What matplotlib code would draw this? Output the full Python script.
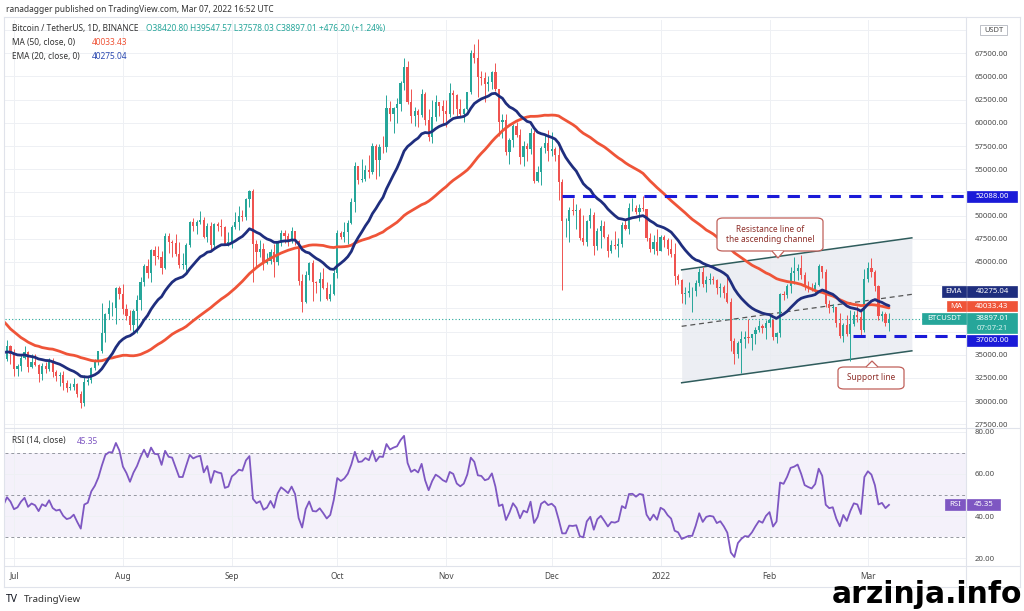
import numpy as np
import pandas as pd
import matplotlib
matplotlib.use("Agg")
import matplotlib.pyplot as plt
import matplotlib.dates as mdates
from matplotlib.patches import Rectangle, FancyBboxPatch, Polygon
from matplotlib.lines import Line2D

plt.rcParams['font.family'] = ['Noto Sans', 'DejaVu Sans']

# ---- data: BTCUSDT daily (Binance) ----
# closes before the visible window, only used to warm up MA50 / EMA20 / RSI
warmup_start = '2021-05-01'
warmup_close = [
    57800, 56600, 57200, 53200, 57500, 56400, 57400, 58900, 58300, 55800,
    56700, 49150, 49700, 49900, 46800, 46400, 43600, 42900, 37000, 40600,
    37300, 37500, 34700, 38800, 38400, 39300, 38500, 35700, 34600, 35700, 37300,
    36700, 37600, 39200, 36900, 35500, 35800, 33600, 33400, 37400, 36700,
    37300, 35550, 39000, 40500, 40150, 38350, 38100, 35800, 35500, 35600,
    31700, 32500, 33700, 34700, 31600, 32200, 34700,
]

# visible candles, 2021-06-28 .. 2022-03-07
close = [
    34500, 35900, 35050,
    # jul
    33500, 33800, 34700, 35300, 33700, 34200, 33900, 32900, 33800, 33500, 34250,
    33100, 32700, 32800, 31900, 31400, 31500, 31800, 30800, 29800, 32100, 32300,
    33600, 34300, 35400, 37300, 39400, 40000, 40000, 42200, 41500,
    # aug
    39900, 39200, 38200, 39700, 40900, 42800, 44600, 43800, 46300, 45600, 45550,
    44400, 47800, 47100, 47000, 45900, 44700, 44700, 46800, 49300, 48900, 49300,
    49500, 47700, 48900, 46800, 49100, 48900, 48800, 46900, 47100,
    # sep
    48800, 49300, 50000, 49900, 51800, 52700, 46900, 46100, 46400, 44850, 45150,
    46100, 44950, 47100, 48150, 47750, 47300, 48300, 47250, 43000, 40700, 43550,
    44900, 42800, 42700, 43200, 42200, 41050, 41550, 43800,
    # oct
    48150, 47650, 48200, 49250, 51500, 55350, 53800, 53950, 54950, 54650, 57500,
    56000, 57400, 57350, 61650, 60900, 61550, 62000, 64250, 66000, 62200, 60700,
    61300, 60850, 63100, 60350, 58450, 60600, 62250, 61850, 61300,
    # nov
    61000, 63250, 62950, 61450, 61000, 61500, 63300, 67550, 66950, 64900, 64800,
    64150, 64400, 65500, 63600, 60100, 60350, 56900, 58100, 59700, 58700, 56300,
    57550, 57150, 58950, 53700, 54750, 57300, 57800, 56950,
    # dec
    57200, 56500, 53600, 49400, 49400, 50600, 50500, 50600, 47550, 47150, 49400,
    50100, 46700, 48350, 48900, 47650, 46200, 46850, 46700, 46900, 49000, 48600,
    50800, 50850, 50400, 50800, 50700, 47550, 46450, 47150, 46200,
    # jan
    47700, 47350, 46450, 45850, 43450, 43100, 41550, 41700, 41850, 41850, 42750,
    43950, 42600, 43100, 43200, 43100, 42200, 42350, 41650, 40700, 36450, 35050,
    36300, 36700, 36950, 36850, 37200, 37700, 38150, 37900, 38450,
    # feb
    38750, 36900, 37300, 41550, 41400, 42400, 43850, 44050, 44400, 43550, 42400,
    42200, 42050, 42550, 44550, 43900, 40500, 40000, 40100, 38400, 37050, 38250,
    37250, 38350, 39250, 39100, 37700, 43200,
    # mar
    44400, 43950, 42450, 39150, 39400, 38420.80, 38897.01,
]
high = [
    35300, 36600, 36100,
    35600, 33950, 34950, 35950, 35400, 35100, 35050, 34000, 34100, 34250, 34600,
    34650, 33350, 33100, 33200, 32250, 31950, 32450, 31900, 31050, 32850, 32600,
    33650, 34500, 35450, 40550, 39550, 40900, 40650, 42300, 42450,
    42600, 40450, 39800, 39950, 41400, 43400, 44750, 45300, 46450, 46700, 46750,
    46200, 48150, 48150, 47400, 48050, 47150, 46000, 47050, 49400, 49750, 49500,
    50500, 49850, 49250, 49350, 49200, 49300, 49650, 48900, 48250,
    49000, 50400, 51050, 50550, 51900, 52800, 52900, 47350, 47400, 47050, 45950,
    46450, 46900, 47250, 48450, 48500, 48150, 48800, 48350, 47350, 43650, 44000,
    44950, 45200, 42950, 43900, 44350, 42800, 42650, 44100,
    48500, 48350, 49300, 49500, 51900, 55750, 55350, 56100, 55500, 56550, 57850,
    57700, 57700, 58550, 62950, 62350, 61750, 62650, 64500, 67000, 66650, 63700,
    61750, 61500, 63700, 63300, 61500, 62500, 62950, 62300, 62450,
    62450, 64300, 63500, 63100, 62600, 61600, 63350, 67800, 68550, 69000, 65600,
    65450, 65000, 65550, 66400, 63600, 61000, 60950, 58400, 59850, 60050, 59300,
    58000, 57800, 59400, 59200, 55300, 57450, 58850, 59250,
    59050, 57400, 57600, 53900, 49700, 50900, 51950, 51200, 50800, 50100, 49500,
    50800, 50400, 48700, 49500, 49450, 48000, 47350, 48300, 47550, 49350, 49600,
    51400, 51850, 51150, 51300, 52100, 50700, 48150, 47900, 48550,
    47950, 47950, 47550, 47500, 47050, 43750, 43150, 42300, 42800, 42250, 43100,
    44350, 44450, 43450, 43800, 43500, 43200, 42700, 42550, 43500, 41100, 36850,
    36500, 37550, 37550, 38900, 37250, 38000, 38700, 38350, 38750,
    39250, 38850, 37400, 41700, 41900, 42650, 44500, 45500, 44800, 45800, 43950,
    43000, 42750, 42850, 44750, 44600, 44200, 40950, 40500, 40150, 39500, 38450,
    39250, 39850, 39750, 40300, 39900, 44250,
    44950, 45400, 44100, 42500, 39700, 39650, 39547.57,
]
low = [
    33900, 34300, 34000,
    32700, 32700, 33300, 34500, 33150, 33550, 33800, 32100, 32300, 33000, 33300,
    32650, 32200, 31600, 31150, 31000, 31150, 31200, 30400, 29300, 29500, 31700,
    32000, 33400, 33900, 35200, 36400, 38800, 39200, 38300, 41000,
    39400, 38700, 37650, 37500, 37350, 39850, 42450, 43300, 42800, 44700, 45350,
    43750, 44250, 45950, 45500, 45650, 44400, 44200, 43950, 46650, 48300, 48000,
    49050, 47600, 47150, 46300, 46400, 48350, 47800, 46850, 46700,
    46500, 48600, 48400, 49450, 49500, 50900, 42850, 44400, 45500, 44150, 44750,
    44750, 43400, 44700, 46700, 47050, 46750, 47050, 46850, 42500, 39600, 40550,
    43100, 40800, 41700, 40750, 42100, 40850, 40750, 41400,
    43300, 47450, 47100, 46900, 49050, 50400, 53400, 53600, 53700, 54100, 54450,
    53900, 54250, 56800, 56850, 60150, 58950, 60000, 61300, 63500, 62000, 60000,
    59650, 59500, 60650, 59800, 58000, 57800, 60150, 60700, 59900,
    59500, 60650, 60950, 60700, 60750, 60100, 61350, 63100, 66400, 62800, 64100,
    62300, 63400, 63600, 63400, 58600, 58400, 56500, 55600, 57350, 58500, 55600,
    55300, 55850, 56650, 53500, 53650, 53250, 56700, 55900,
    56450, 55850, 51700, 42000, 47700, 47100, 50050, 48600, 47350, 46850, 46700,
    48650, 45700, 46300, 46550, 47550, 45500, 45950, 46400, 45550, 46650, 48450,
    48050, 50450, 50200, 49450, 50450, 47300, 46100, 45900, 45700,
    46200, 46650, 45700, 45500, 42500, 42650, 40600, 40500, 41250, 39650, 41300,
    42450, 42300, 41750, 42600, 42600, 41550, 41250, 41100, 40550, 35450, 34000,
    34600, 33000, 35700, 36250, 35500, 36150, 37400, 37350, 36650,
    38000, 36600, 36250, 36950, 40850, 41100, 41650, 42650, 43100, 43200, 42000,
    41750, 41850, 41550, 42450, 43300, 40100, 39450, 39650, 38000, 36800, 36350,
    37050, 34300, 38050, 38550, 37000, 37450,
    42850, 43350, 41850, 38700, 38600, 38100, 37578.03,
]

ma_last = '40033.43'
ema_last = '40275.04'
rsi_last = 45.35
countdown = '07:07:21'

resistance = 52088.00
resistance_from = '2021-12-04'
support = 37000.00
support_from = '2022-02-24 16:00'

channel_dates = ['2022-01-07', '2022-03-13 12:00']
channel_upper = [44150, 47600]
channel_lower = [31980, 35420]

month_ticks = ['2021-07-01', '2021-08-01', '2021-09-01', '2021-10-01', '2021-11-01',
               '2021-12-01', '2022-01-01', '2022-02-01', '2022-03-01']
month_labels = ['Jul', 'Aug', 'Sep', 'Oct', 'Nov', 'Dec', '2022', 'Feb', 'Mar']
price_ticks = list(range(27500, 70001, 2500))
hidden_ticks = [70000, 52500, 42500, 40000, 37500]   # sit under the axis tags
rsi_ticks = [20, 40, 60, 80]

# ---- indicators ----
allc = pd.Series(warmup_close + close,
                 index=pd.date_range(warmup_start, periods=len(warmup_close) + len(close)))
ma50 = allc.rolling(50).mean()
ema20 = allc.ewm(span=20, adjust=False).mean()
d = allc.diff()
gain = d.clip(lower=0).ewm(alpha=1 / 14, adjust=False).mean()
loss = (-d.clip(upper=0)).ewm(alpha=1 / 14, adjust=False).mean()
rsi = 100 - 100 / (1 + gain / loss)

n = len(close)
vis = allc.index[-n:]
x = mdates.date2num(vis)
c = np.array(close, float)
o = np.r_[warmup_close[-1], c[:-1]]
h = np.array(high, float)
l = np.array(low, float)

GREEN = '#26a69a'
RED = '#ef5350'
NAVY = '#1f2e7e'
MARED = '#ef5438'
BLUE = '#1a1ad8'
PURPLE = '#7e57c2'
GRID = '#eef0f4'
TXT = '#4a4a4a'

W, H = 1024, 611
L, R = 5, 966
fig = plt.figure(figsize=(W / 100, H / 100), dpi=100)
ax = fig.add_axes([L / W, 1 - 428 / H, (R - L) / W, (428 - 20) / H])
ar = fig.add_axes([L / W, 1 - 566 / H, (R - L) / W, (566 - 428) / H], sharex=ax)

jul1 = mdates.datestr2num('2021-07-01')
ppd = 3.514
ax.set_xlim(jul1 - (14 - L) / ppd, jul1 + (R - 14) / ppd)
ax.set_ylim(27101, 71087)
ar.set_ylim(16.2, 81.9)

# ---- main pane ----
mt = mdates.datestr2num(month_ticks)
for a in (ax, ar):
    for s in a.spines.values():
        s.set_visible(False)
    a.set_xticks(mt)
    a.grid(True, color=GRID, lw=0.7, zorder=0)
    a.set_axisbelow(True)

# channel
cx = mdates.datestr2num(channel_dates)
ax.fill_between(cx, channel_lower, channel_upper, color='#e9ecf1', alpha=0.85, lw=0, zorder=0.6)
ax.plot(cx, channel_upper, color='#2f5c5c', lw=1.1, zorder=1.2)
ax.plot(cx, channel_lower, color='#2f5c5c', lw=1.1, zorder=1.2)
ax.plot(cx, [(a + b) / 2 for a, b in zip(channel_lower, channel_upper)],
        color='#555555', lw=0.9, ls=(0, (4, 3)), zorder=1.2)

col = np.where(c >= o, GREEN, RED)
ax.vlines(x, l, h, colors=col, lw=0.7, zorder=2)
body = np.maximum(np.abs(c - o), 60)
ax.bar(x, body, bottom=np.minimum(o, c), width=0.62, color=col, lw=0, zorder=2.1)

ax.plot(x, ma50.values[-n:], color=MARED, lw=2.0, zorder=3, solid_capstyle='round')
ax.plot(x, ema20.values[-n:], color=NAVY, lw=2.0, zorder=3.1, solid_capstyle='round')

xr = ax.get_xlim()[1]
ax.hlines(resistance, mdates.datestr2num(resistance_from), xr, color=BLUE, lw=2.2,
          linestyles=(0, (4, 2.7)), zorder=3.2)
ax.hlines(support, mdates.datestr2num(support_from), xr, color=BLUE, lw=2.2,
          linestyles=(0, (4, 2.7)), zorder=3.2)
ax.axhline(c[-1], color=GREEN, lw=0.8, ls=(0, (1, 2)), zorder=1.5)

ax.set_yticks(price_ticks)
ax.set_yticklabels(['' if v in hidden_ticks else f'{v:.2f}' for v in price_ticks])
ax.yaxis.tick_right()
ax.tick_params(axis='y', length=0, pad=6.5, labelsize=5.6, labelcolor=TXT)
ax.tick_params(axis='x', length=0, labelbottom=False)

# ---- RSI pane ----
ar.axhspan(30, 70, color=PURPLE, alpha=0.08, lw=0, zorder=0.5)
for lv in (70, 50, 30):
    ar.axhline(lv, color='#9598a1', lw=0.7, ls=(0, (3, 3)), zorder=1)
ar.plot(x, rsi.values[-n:], color=PURPLE, lw=1.3, zorder=2)
ar.set_yticks(rsi_ticks)
ar.set_yticklabels([f'{v:.2f}' for v in rsi_ticks])
ar.yaxis.tick_right()
ar.tick_params(axis='y', length=0, pad=6.5, labelsize=5.6, labelcolor=TXT)
ar.set_xticklabels(month_labels)
ar.tick_params(axis='x', length=0, pad=4, labelsize=6, labelcolor=TXT)
for t in ar.get_xticklabels():
    if t.get_text() == '2022':
        t.set_fontweight('bold')
ax.set_xlim(jul1 - (14 - L) / ppd, jul1 + (R - 14) / ppd)


# ---- overlay helpers (figure pixels, y from top) ----
def fx(px):
    return px / W


def fy(py):
    return 1 - py / H


def py_of(a, val):
    return H - a.transData.transform((0, val))[1]


def box(x0, x1, y0, y1, fc, ec=None, lw=0.5, z=10):
    fig.add_artist(Rectangle((fx(x0), fy(y1)), fx(x1 - x0), (y1 - y0) / H,
                             transform=fig.transFigure, facecolor=fc,
                             edgecolor=ec or fc, lw=lw, zorder=z))


def label(px, py, s, color='white', fs=5.6, ha='center', z=11, **kw):
    fig.text(fx(px), fy(py), s, color=color, fontsize=fs, ha=ha, va='center', zorder=z, **kw)


def hline(x0, x1, py, color='#e0e3eb', lw=0.8):
    fig.add_artist(Line2D([fx(x0), fx(x1)], [fy(py), fy(py)], transform=fig.transFigure,
                          color=color, lw=lw, zorder=9))


def vline(px, y0, y1, color='#e0e3eb', lw=0.8):
    fig.add_artist(Line2D([fx(px), fx(px)], [fy(y0), fy(y1)], transform=fig.transFigure,
                          color=color, lw=lw, zorder=9))


# frame
hline(4, 1020, 17)
hline(4, 1020, 587)
hline(4, 1020, 428)
hline(4, 1020, 566)
vline(4, 17, 587)
vline(1020, 17, 587)
vline(R, 17, 587)

# price tags
yv = py_of(ax, resistance)
box(967, 1017, yv - 5.5, yv + 5.5, BLUE)
label(992, yv, f'{resistance:.2f}')

ye = py_of(ax, float(ema_last)) - 14
box(942, 966, ye - 5.5, ye + 5.5, NAVY)
label(954, ye, 'EMA')
box(967, 1017, ye - 5.5, ye + 5.5, NAVY)
label(992, ye, ema_last)

ym = py_of(ax, float(ma_last)) - 2
box(947, 966, ym - 5, ym + 5, MARED)
label(956.5, ym, 'MA')
box(967, 1017, ym - 5, ym + 5, MARED)
label(992, ym, ma_last)

yc = py_of(ax, c[-1])
box(922, 966, yc - 5.5, yc + 5.5, GREEN)
label(944, yc, 'BTCUSDT')
box(967, 1017, yc - 5.5, yc + 14.5, GREEN)
label(992, yc, f'{c[-1]:.2f}')
label(992, yc + 9.5, countdown, color='#d8f3ef')

ys = py_of(ax, support) + 4.5
box(967, 1017, ys - 5.5, ys + 5.5, BLUE)
label(992, ys, f'{support:.2f}')

yr = py_of(ar, rsi_last)
box(945, 965, yr - 5.5, yr + 5.5, PURPLE)
label(955, yr, 'RSI')
box(967, 1000, yr - 5.5, yr + 5.5, PURPLE)
label(983.5, yr, f'{rsi_last:.2f}')

box(980, 1007, 25, 35, 'white', ec='#b2b5be', lw=0.6)
label(993.5, 30, 'USDT', color=TXT, fs=5.4)

# callouts
CB = '#c0605a'
CT = '#8e2f2a'
for (x0, y0, x1, y1), tip, txt in [
        ((717, 218, 823, 251), (778, 258, 1), 'Resistance line of\nthe ascending channel'),
        ((838, 367, 904, 389), (872, 361, -1), 'Support line')]:
    fig.add_artist(FancyBboxPatch((fx(x0), fy(y1)), fx(x1 - x0), (y1 - y0) / H,
                                  boxstyle='round,pad=0,rounding_size=0.006',
                                  transform=fig.transFigure, facecolor='white',
                                  edgecolor=CB, lw=0.9, zorder=10))
    tx, ty, sgn = tip
    base = y1 if sgn > 0 else y0
    pts = [(fx(tx - 6), fy(base)), (fx(tx), fy(ty)), (fx(tx + 6), fy(base))]
    fig.add_artist(Polygon(pts, closed=False, transform=fig.transFigure,
                           facecolor='white', edgecolor=CB, lw=0.9, zorder=10.5))
    hline(tx - 5.3, tx + 5.3, base, color='white', lw=1.2)
    label((x0 + x1) / 2, (y0 + y1) / 2, txt, color=CT, fs=6, z=12, linespacing=1.15)

# header texts
HFS = 6.0
label(6, 9, 'ranadagger published on TradingView.com, Mar 07, 2022 16:52 UTC', color='#333333',
      fs=HFS, ha='left')
label(12, 28.3, 'Bitcoin / TetherUS, 1D, BINANCE', color='#333333', fs=HFS, ha='left')
label(146, 28.3, 'O38420.80 H39547.57 L37578.03 C38897.01 +476.20 (+1.24%)', color=GREEN,
      fs=HFS, ha='left')
label(12, 42.7, 'MA (50, close, 0)', color='#333333', fs=HFS, ha='left')
label(92, 42.7, ma_last, color=MARED, fs=HFS, ha='left')
label(12, 56.7, 'EMA (20, close, 0)', color='#333333', fs=HFS, ha='left')
label(92, 56.7, ema_last, color='#2a48b0', fs=HFS, ha='left')
label(12, 441, 'RSI (14, close)', color='#333333', fs=HFS, ha='left')
label(77, 441, f'{rsi_last:.2f}', color=PURPLE, fs=HFS, ha='left')

# footer
label(6, 600, 'TV', color='#131722', fs=7.5, ha='left', fontweight='bold')
label(24, 600, 'TradingView', color='#333333', fs=7, ha='left')
fig.text(fx(832), fy(603), 'arzinja.info', fontsize=21.5, fontweight='bold',
         family='DejaVu Sans', color='black', ha='left', va='baseline', zorder=12)

fig.savefig('out.png', dpi=100)
